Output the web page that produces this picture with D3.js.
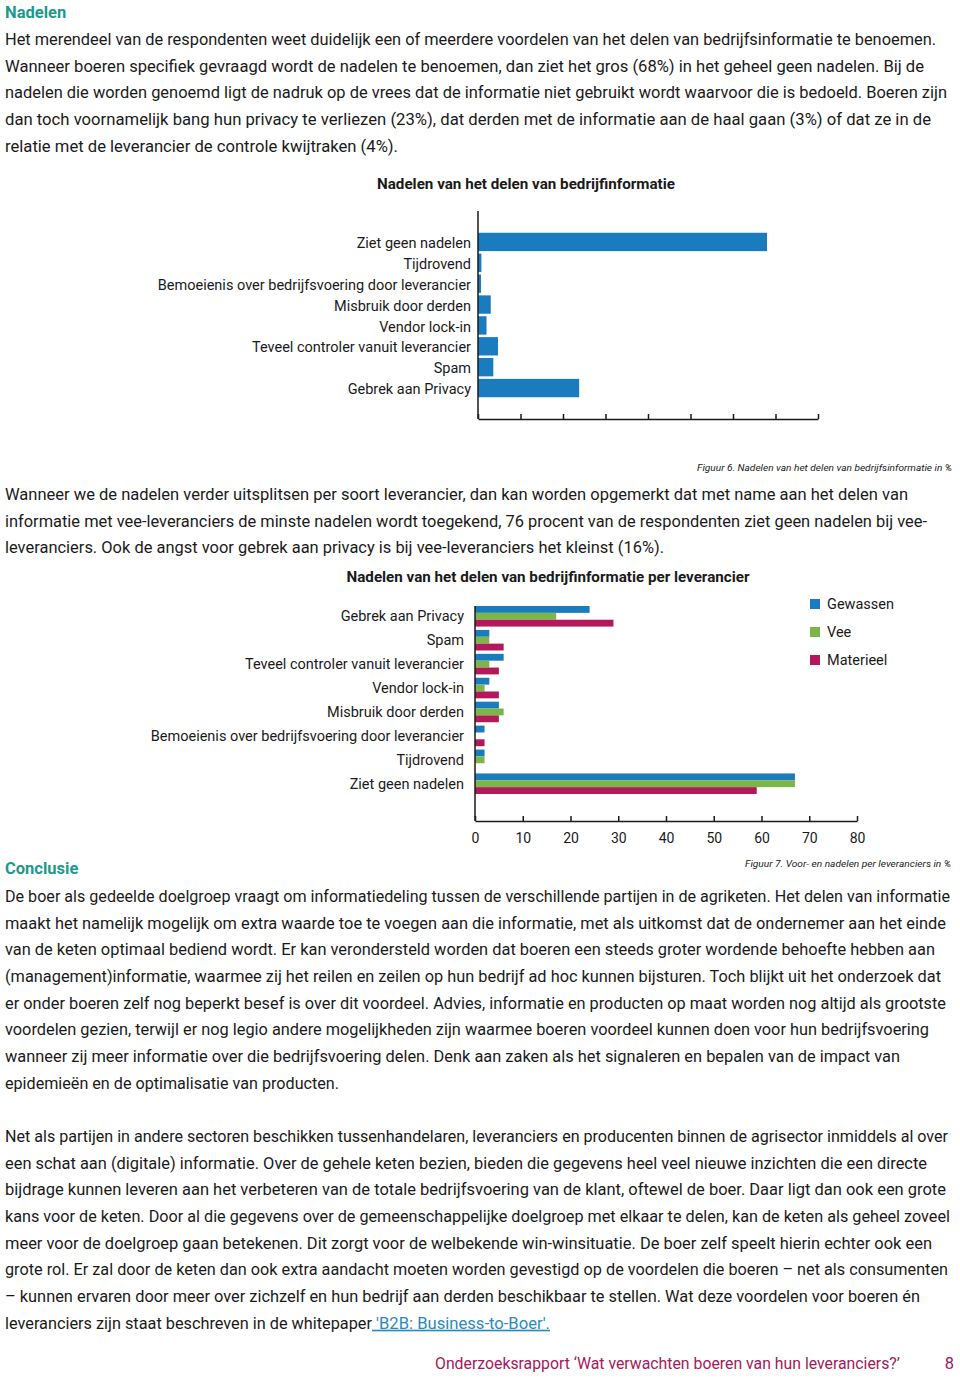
<!DOCTYPE html>
<html>
<head>
<meta charset="utf-8">
<script src="https://cdn.jsdelivr.net/npm/d3@7"></script>
<style>
  html, body { margin: 0; padding: 0; background: #fff; }
  svg { display: block; }
  text { font-family: Roboto, "Liberation Sans", sans-serif; }
</style>
</head>
<body>
<svg id="page" width="960" height="1378"></svg>
<script>
// ---------- DATA ----------
const categories1 = ["Ziet geen nadelen", "Tijdrovend", "Bemoeienis over bedrijfsvoering door leverancier",
  "Misbruik door derden", "Vendor lock-in", "Teveel controler vanuit leverancier", "Spam", "Gebrek aan Privacy"];
const values1 = [68, 0.8, 0.7, 3, 2, 4.7, 3.6, 23.8];

const categories2 = ["Gebrek aan Privacy", "Spam", "Teveel controler vanuit leverancier", "Vendor lock-in",
  "Misbruik door derden", "Bemoeienis over bedrijfsvoering door leverancier", "Tijdrovend", "Ziet geen nadelen"];
const seriesNames = ["Gewassen", "Vee", "Materieel"];
const gewassen  = [24, 3, 6, 3, 5, 2, 2, 67];
const vee       = [17, 3, 3, 2, 6, 0, 2, 67];
const materieel = [29, 6, 5, 5, 5, 2, 0, 59];
const xTicks2 = [0, 10, 20, 30, 40, 50, 60, 70, 80];

const title1 = "Nadelen van het delen van bedrijfinformatie";
const title2 = "Nadelen van het delen van bedrijfinformatie per leverancier";
const caption1 = "Figuur 6. Nadelen van het delen van bedrijfsinformatie in %";
const caption2 = "Figuur 7. Voor- en nadelen per leveranciers in %";

const para1 = [
  "Het merendeel van de respondenten weet duidelijk een of meerdere voordelen van het delen van bedrijfsinformatie te benoemen.",
  "Wanneer boeren specifiek gevraagd wordt de nadelen te benoemen, dan ziet het gros (68%) in het geheel geen nadelen. Bij de",
  "nadelen die worden genoemd ligt de nadruk op de vrees dat de informatie niet gebruikt wordt waarvoor die is bedoeld. Boeren zijn",
  "dan toch voornamelijk bang hun privacy te verliezen (23%), dat derden met de informatie aan de haal gaan (3%) of dat ze in de",
  "relatie met de leverancier de controle kwijtraken (4%)."
];
const para1Ends = [936, 924, 947, 931, 398];

const para2 = [
  "Wanneer we de nadelen verder uitsplitsen per soort leverancier, dan kan worden opgemerkt dat met name aan het delen van",
  "informatie met vee-leveranciers de minste nadelen wordt toegekend, 76 procent van de respondenten ziet geen nadelen bij vee-",
  "leveranciers. Ook de angst voor gebrek aan privacy is bij vee-leveranciers het kleinst (16%)."
];
const para2Ends = [908, 927, 664];

const para3 = [
  "De boer als gedeelde doelgroep vraagt om informatiedeling tussen de verschillende partijen in de agriketen. Het delen van informatie",
  "maakt het namelijk mogelijk om extra waarde toe te voegen aan die informatie, met als uitkomst dat de ondernemer aan het einde",
  "van de keten optimaal bediend wordt. Er kan verondersteld worden dat boeren een steeds groter wordende behoefte hebben aan",
  "(management)informatie, waarmee zij het reilen en zeilen op hun bedrijf ad hoc kunnen bijsturen. Toch blijkt uit het onderzoek dat",
  "er onder boeren zelf nog beperkt besef is over dit voordeel. Advies, informatie en producten op maat worden nog altijd als grootste",
  "voordelen gezien, terwijl er nog legio andere mogelijkheden zijn waarmee boeren voordeel kunnen doen voor hun bedrijfsvoering",
  "wanneer zij meer informatie over die bedrijfsvoering delen. Denk aan zaken als het signaleren en bepalen van de impact van",
  "epidemieën en de optimalisatie van producten."
];
const para3Ends = [950, 946, 935, 941, 946, 929, 900, 339];

const para4 = [
  "Net als partijen in andere sectoren beschikken tussenhandelaren, leveranciers en producenten binnen de agrisector inmiddels al over",
  "een schat aan (digitale) informatie. Over de gehele keten bezien, bieden die gegevens heel veel nieuwe inzichten die een directe",
  "bijdrage kunnen leveren aan het verbeteren van de totale bedrijfsvoering van de klant, oftewel de boer. Daar ligt dan ook een grote",
  "kans voor de keten. Door al die gegevens over de gemeenschappelijke doelgroep met elkaar te delen, kan de keten als geheel zoveel",
  "meer voor de doelgroep gaan betekenen. Dit zorgt voor de welbekende win-winsituatie. De boer zelf speelt hierin echter ook een",
  "grote rol. Er zal door de keten dan ook extra aandacht moeten worden gevestigd op de voordelen die boeren – net als consumenten",
  "– kunnen ervaren door meer over zichzelf en hun bedrijf aan derden beschikbaar te stellen. Wat deze voordelen voor boeren én",
  "leveranciers zijn staat beschreven in de whitepaper"
];
const para4Ends = [948, 927, 946, 950, 932, 948, 920, 372];
const linkText = " 'B2B: Business-to-Boer'.";
const footerText = "Onderzoeksrapport ‘Wat verwachten boeren van hun leveranciers?’";
const pageNumber = "8";

// ---------- STYLE ----------
const TEAL = "#1b9a8c", BLUE = "#1a7bbf", GREEN = "#7ab648", MAGENTA = "#b2195a",
      FOOT = "#a3195b", LINK = "#2a8ac0", INK = "#1a1a1a";
const seriesColors = [BLUE, GREEN, MAGENTA];
const BODY_SIZE = 16.5;

const svg = d3.select("#page");

// fit a text element into a target width: shrink the font if it is too wide, then set textLength
function fitText(el, targetW, baseSize) {
  const natural = el.node().getComputedTextLength();
  if (natural > targetW) {
    el.attr("font-size", baseSize * targetW / natural * 0.995);
  }
  el.attr("textLength", targetW).attr("lengthAdjust", "spacingAndGlyphs");
}

function paragraph(lines, ends, y0, step) {
  lines.forEach((t, i) => {
    const el = svg.append("text")
      .attr("x", 5).attr("y", y0 + i * step)
      .attr("font-size", BODY_SIZE).attr("fill", INK)
      .text(t);
    fitText(el, ends[i] - 5, BODY_SIZE);
  });
}

function heading(t, y) {
  svg.append("text").attr("x", 5).attr("y", y)
    .attr("font-size", BODY_SIZE).attr("font-weight", 700).attr("fill", TEAL).text(t);
}

// ---------- TEXT ----------
heading("Nadelen", 18);
paragraph(para1, para1Ends, 45, 26.67);
paragraph(para2, para2Ends, 500, 26.67);
heading("Conclusie", 874);
paragraph(para3, para3Ends, 902, 26.67);
paragraph(para4, para4Ends, 1142, 26.67);

// link
const linkY = 1142 + 7 * 26.67;
const linkEl = svg.append("text").attr("x", 372).attr("y", linkY)
  .attr("font-size", BODY_SIZE).attr("fill", LINK)
  .attr("text-decoration", "underline")
  .style("white-space", "pre")
  .text(linkText);
fitText(linkEl, 178, BODY_SIZE);

// footer
const footEl = svg.append("text").attr("x", 435).attr("y", 1369)
  .attr("font-size", BODY_SIZE).attr("fill", FOOT)
  .text(footerText);
fitText(footEl, 465, BODY_SIZE);
svg.append("text").attr("x", 954).attr("y", 1369).attr("text-anchor", "end")
  .attr("font-size", BODY_SIZE).attr("fill", FOOT).text(pageNumber);

// captions
const cap1 = svg.append("text").attr("x", 952).attr("y", 471).attr("text-anchor", "end")
  .attr("font-size", 9.5).attr("font-style", "italic").attr("fill", INK).text(caption1);
fitText(cap1, 255, 9.5);
const cap2 = svg.append("text").attr("x", 951).attr("y", 867).attr("text-anchor", "end")
  .attr("font-size", 9.5).attr("font-style", "italic").attr("fill", INK).text(caption2);
fitText(cap2, 206, 9.5);

// ---------- CHART 1 ----------
{
  const x = d3.scaleLinear().domain([0, 80]).range([478, 818]);
  const y = d3.scaleBand().domain(categories1).range([231.5, 398.5]).paddingInner(0.12).paddingOuter(0.06);
  const g = svg.append("g");

  const t1 = g.append("text").attr("x", 526).attr("y", 189).attr("text-anchor", "middle")
    .attr("font-size", 14.5).attr("font-weight", 700).attr("fill", INK).text(title1);
  fitText(t1, 298, 14.5);

  g.selectAll("rect.b1").data(categories1).join("rect").attr("class", "b1")
    .attr("x", x(0)).attr("y", d => y(d))
    .attr("width", (d, i) => x(values1[i]) - x(0))
    .attr("height", y.bandwidth()).attr("fill", BLUE);

  g.selectAll("text.l1").data(categories1).join("text").attr("class", "l1")
    .attr("x", 471).attr("y", d => y(d) + y.bandwidth() / 2 + 1)
    .attr("dy", "0.35em").attr("text-anchor", "end")
    .attr("font-size", 14.5).attr("fill", INK).text(d => d);

  // axes
  g.append("line").attr("x1", x(0)).attr("x2", x(0)).attr("y1", 211).attr("y2", 419)
    .attr("stroke", INK).attr("stroke-width", 1.5);
  const ax = d3.axisTop(x).tickValues(xTicks2).tickSize(5).tickFormat("").tickSizeOuter(0);
  const axg = g.append("g").attr("transform", "translate(0,419)").call(ax);
  axg.select(".domain").attr("stroke", INK).attr("stroke-width", 1.5);
  axg.selectAll(".tick line").attr("stroke", INK).attr("stroke-width", 1.5);
}

// ---------- CHART 2 ----------
{
  const x = d3.scaleLinear().domain([0, 80]).range([475, 857]);
  const y = d3.scaleBand().domain(categories2).range([606, 794]).paddingInner(0.14);
  const ys = d3.scaleBand().domain(seriesNames).range([0, y.bandwidth()]);
  const allSeries = [gewassen, vee, materieel];
  const g = svg.append("g");

  const t2 = g.append("text").attr("x", 548).attr("y", 582).attr("text-anchor", "middle")
    .attr("font-size", 14.5).attr("font-weight", 700).attr("fill", INK).text(title2);
  fitText(t2, 403, 14.5);

  const groups = g.selectAll("g.grp").data(categories2).join("g").attr("class", "grp")
    .attr("transform", d => `translate(0,${y(d)})`);
  groups.selectAll("rect").data((d, i) => seriesNames.map((s, k) => ({ s, v: allSeries[k][i], k })))
    .join("rect")
    .attr("x", x(0)).attr("y", d => ys(d.s))
    .attr("width", d => x(d.v) - x(0)).attr("height", ys.bandwidth())
    .attr("fill", d => seriesColors[d.k]);

  g.selectAll("text.l2").data(categories2).join("text").attr("class", "l2")
    .attr("x", 464).attr("y", d => y(d) + y.bandwidth() / 2)
    .attr("dy", "0.35em").attr("text-anchor", "end")
    .attr("font-size", 14.5).attr("fill", INK).text(d => d);

  g.append("line").attr("x1", x(0)).attr("x2", x(0)).attr("y1", 606).attr("y2", 821)
    .attr("stroke", INK).attr("stroke-width", 1.5);
  const axg = g.append("g").attr("transform", "translate(0,821)")
    .call(d3.axisBottom(x).tickValues(xTicks2).tickSize(0).tickSizeOuter(0).tickPadding(12));
  axg.select(".domain").attr("stroke", INK).attr("stroke-width", 1.5);
  axg.selectAll(".tick text").attr("font-size", 14).attr("fill", INK)
    .attr("font-family", "Roboto, sans-serif");
  // upward ticks
  axg.selectAll(".tick").append("line").attr("y1", 0).attr("y2", -5)
    .attr("stroke", INK).attr("stroke-width", 1.5);

  // legend
  const lg = g.selectAll("g.leg").data(seriesNames).join("g").attr("class", "leg")
    .attr("transform", (d, i) => `translate(810,${604 + i * 28})`);
  lg.append("rect").attr("x", 0).attr("y", -5).attr("width", 10).attr("height", 10)
    .attr("fill", (d, i) => seriesColors[i]);
  lg.append("text").attr("x", 17).attr("y", 0).attr("dy", "0.35em")
    .attr("font-size", 14.5).attr("fill", INK).text(d => d);
}
</script>
</body>
</html>
